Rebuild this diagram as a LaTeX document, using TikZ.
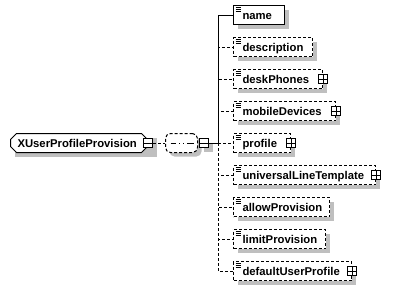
\documentclass[tikz,border=0pt]{standalone}
\usepackage{fontspec}
\setmainfont{Liberation Sans}
\usetikzlibrary{positioning,shapes.misc}

\tikzset{
	every node/.style={font=\bfseries\fontsize{11.3}{13}\selectfont},
	boxshade/.style={fill=black!25, draw=none},
	optline/.style={dash pattern=on 3pt off 2pt},
	xsdbox/.style={draw, fill=white, anchor=west, minimum height=19pt, inner xsep=9pt, inner ysep=0pt,
		text height=10.5pt, text depth=2.5pt, align=left,
		execute at begin node={\hyphenpenalty=10000\relax},
		path picture={\foreach \k in {1.5,3.5,5.5}
			\draw[solid, line width=.7pt] ([xshift=2pt,yshift=-\k pt]path picture bounding box.north west) -- ++(5pt,0pt);}},
	elem/.style={xsdbox, text width=#1},
	optelem/.style={xsdbox, text width=#1, optline},
	typebox/.style={draw, fill=white, anchor=west, chamfered rectangle, chamfered rectangle xsep=3pt,
		chamfered rectangle ysep=3pt, minimum height=19pt, inner xsep=4pt, inner ysep=0pt, text width=123pt,
		text height=10.5pt, text depth=2.5pt, align=left},
	seqbox/.style={draw, fill=white, optline, rounded corners=5pt, minimum width=32pt, minimum height=19pt,
		inner sep=0pt,
		path picture={\draw[solid, sharp corners] ([xshift=-11pt]path picture bounding box.center) -- ([xshift=12pt]path picture bounding box.center);
			\foreach \d in {-4,0,4}
				\fill[sharp corners] ([xshift=\d pt]path picture bounding box.center) ++(-1.5pt,-1.5pt) rectangle ++(3pt,3pt);}},
	pmbox/.style={draw, solid, fill=white, minimum size=9pt, inner sep=0pt, sharp corners},
	collapse/.style={pmbox, path picture={\draw[line width=1pt] (path picture bounding box.west) -- (path picture bounding box.east);}},
	expand/.style={pmbox, path picture={\draw[line width=1pt] (path picture bounding box.west) -- (path picture bounding box.east)
		(path picture bounding box.north) -- (path picture bounding box.south);}},
}

\begin{document}
\begin{tikzpicture}[x=1pt, y=-1pt, line width=1pt]
	\useasboundingbox (0,0) rectangle (394,290);

	% shadows first, so the boxes sit on top of them
	\path[boxshade] (14.5,137.5) rectangle (156.5,156.5);
	\path[boxshade, rounded corners=5pt] (169.5,137.5) rectangle (201.5,156.5);
	\path[boxshade] (203.5,142.5) rectangle (212.5,151.5);
	\foreach \w/\c in {51/15,79/47,89/79,102/111,57/143,142/175,96/207,92/239,118/271}
		\path[boxshade] (237.5,\c-5.5) rectangle (237.5+\w,\c+13.5);

	\node[typebox] (root) at (10,143) {XUserProfileProvision};
	\node[collapse] (rootpm) at (root.east) {};
	\node[seqbox, right=12pt of rootpm] (seq) {};
	\node[collapse, right=1pt of seq] (seqpm) {};
	\coordinate (bus) at (218,143);

	\node[elem=33] (name) at (233,15) {name};
	\node[optelem=61] (description) at (233,47) {description};
	\node[optelem=71] (deskPhones) at (233,79) {deskPhones};
	\node[optelem=84] (mobileDevices) at (233,111) {mobileDevices};
	\node[optelem=39] (profile) at (233,143) {profile};
	\node[optelem=124] (universalLineTemplate) at (233,175) {universalLineTemplate};
	\node[optelem=78] (allowProvision) at (233,207) {allowProvision};
	\node[optelem=74] (limitProvision) at (233,239) {limitProvision};
	\node[optelem=100] (defaultUserProfile) at (233,271) {defaultUserProfile};
	\foreach \n in {deskPhones,mobileDevices,profile,universalLineTemplate,defaultUserProfile}
		\node[expand] (\n-pm) at (\n.east) {};

	\draw[optline] (rootpm) -- (seq);
	\draw (seqpm) -- (bus) |- (name);
	\foreach \n in {description,deskPhones,mobileDevices,profile,universalLineTemplate,allowProvision,limitProvision,defaultUserProfile}
		\draw[optline] (bus) |- (\n);
\end{tikzpicture}
\end{document}
